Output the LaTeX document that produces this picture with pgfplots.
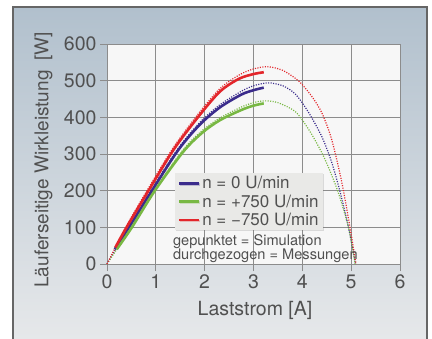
\documentclass[border=0pt]{standalone}
\usepackage{fontspec}
\setmainfont{TeX Gyre Heros}
\usepackage{pgfplots}
\pgfplotsset{compat=1.18}
\usetikzlibrary{shadows}
\definecolor{txt}{HTML}{505050}
\definecolor{gridc}{HTML}{8C8C8C}
\definecolor{panelTop}{HTML}{B1C0CD}
\definecolor{panelBot}{HTML}{E6E8EA}
\definecolor{plotbg}{HTML}{F7F7F7}
\definecolor{cred}{HTML}{E3262B}
\definecolor{cblue}{HTML}{3B2C8C}
\definecolor{cgreen}{HTML}{78B843}
\definecolor{legbg}{HTML}{E9E9E7}
\begin{document}
\begin{tikzpicture}[x=1bp,y=1bp]
\useasboundingbox (0,0) rectangle (432,339);
\fill[white] (0,0) rectangle (432,339);
\shade[top color=panelTop, bottom color=panelBot] (13,0) rectangle (427,332);
\draw[line width=1.4bp, color=black!60] (13,0) -- (13,332) -- (427,332) -- (427,0);
\begin{axis}[
  at={(107bp,75bp)}, anchor=south west,
  scale only axis, width=293bp, height=220bp,
  xmin=0, xmax=6, ymin=0, ymax=600,
  xtick={0,1,...,6}, ytick={0,100,...,600},
  grid=major,
  grid style={gridc, line width=0.9bp},
  axis line style={gridc, line width=0.9bp},
  axis background/.style={fill=plotbg},
  tick style={gridc, line width=0.9bp},
  tick align=outside, major tick length=7bp,
  xtick pos=bottom, ytick pos=left,
  ticklabel style={font=\fontsize{19.5bp}{22bp}\selectfont, text=txt},
  /pgf/number format/assume math mode=true,
  legend style={at={(0.232,0.4136)}, anchor=north west, fill=legbg, draw=none,
    font=\fontsize{17bp}{17bp}\selectfont, text=txt,
    inner xsep=3bp, inner ysep=1bp, row sep=0bp,
    nodes={inner xsep=1.5bp, inner ysep=2.2bp},
    drop shadow={shadow xshift=1bp, shadow yshift=-1bp, opacity=0.25}},
  legend cell align=left,
  legend image code/.code={\draw[#1] (0bp,0bp) -- (20bp,0bp);},
  clip=false,
]
% simulation (dotted)
\addplot[cblue, line width=1.2bp, dash pattern=on 1.1bp off 1.4bp, smooth, tension=0.5, forget plot] coordinates {
(0,0) (0.45,103) (0.92,205) (1.46,316) (1.9,386) (2.31,434) (2.75,471) (3.0,486) (3.3,494) (3.6,486) (3.86,463) (4.13,413) (4.4,347) (4.6,278) (4.78,193) (4.95,97) (5.09,0)};
\addplot[cgreen, line width=1.2bp, dash pattern=on 1.1bp off 1.4bp, smooth, tension=0.5, forget plot] coordinates {
(0,0) (0.51,103) (0.98,204) (1.56,312) (1.95,364) (2.31,398) (2.75,428) (3.0,440) (3.22,445) (3.5,440) (3.86,415) (4.13,367) (4.37,311) (4.54,262) (4.74,193) (4.95,97) (5.08,0)};
\addplot[cred, line width=1.2bp, dash pattern=on 1.1bp off 1.4bp, smooth, tension=0.5, forget plot] coordinates {
(0,0) (0.4,104) (0.85,207) (1.36,318) (1.86,408) (2.31,478) (2.7,515) (3.0,532) (3.3,538) (3.6,528) (3.86,506) (4.0,489) (4.2,456) (4.4,412) (4.6,340) (4.8,228) (4.95,120) (5.1,0)};
% measurements (solid)
\addplot[cblue, line width=2.6bp, smooth, tension=0.5] coordinates {
(0.16,40) (0.45,100) (0.92,200) (1.46,311) (1.9,380) (2.31,427) (2.75,462) (3.0,474) (3.21,481)};
\addlegendentry{n = 0 U/min}
\addplot[cgreen, line width=2.6bp, smooth, tension=0.5] coordinates {
(0.2,40) (0.51,100) (0.98,200) (1.56,306) (1.95,358) (2.31,392) (2.75,420) (3.0,432) (3.21,438)};
\addlegendentry{n = +750 U/min}
\addplot[cred, line width=2.6bp, smooth, tension=0.5] coordinates {
(0.17,45) (0.4,100) (0.85,200) (1.36,311) (1.86,400) (2.31,470) (2.7,505) (3.0,518) (3.21,523)};
\addlegendentry{n = −750 U/min}
\node[anchor=base west, font=\fontsize{14.6bp}{15bp}\selectfont, text=txt, inner sep=0pt] at (axis cs:1.35,51.8) {gepunktet = Simulation};
\node[anchor=base west, font=\fontsize{14.6bp}{15bp}\selectfont, text=txt, inner sep=0pt] at (axis cs:1.35,13.6) {durchgezogen = Messungen};
\end{axis}
\node[rotate=90, font=\fontsize{19bp}{22bp}\selectfont, text=txt] at (43.5,179) {Läuferseitige Wirkleistung\hspace{0.5em}[W]};
\node[font=\fontsize{19.5bp}{22bp}\selectfont, text=txt] at (255,29) {Laststrom [A]};
\end{tikzpicture}
\end{document}
